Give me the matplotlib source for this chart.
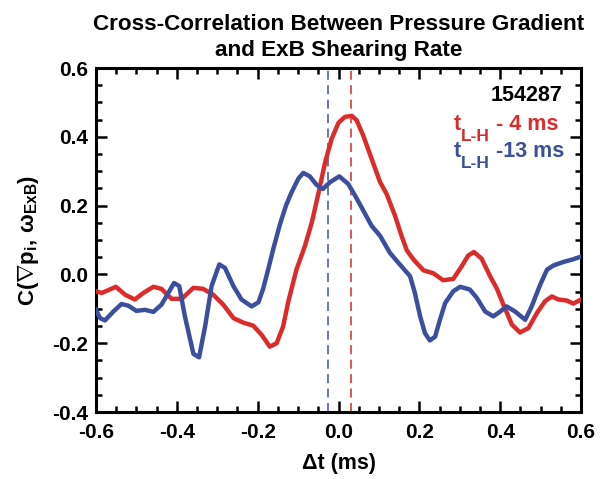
import matplotlib
matplotlib.use("Agg")
import matplotlib.pyplot as plt
from matplotlib import font_manager
from matplotlib.ticker import MultipleLocator, FormatStrFormatter
from matplotlib.transforms import offset_copy

# ---- data ----
red_x = [-0.600, -0.586, -0.570, -0.551, -0.528, -0.504, -0.483, -0.458, -0.438, -0.413,
         -0.388, -0.359, -0.335, -0.310, -0.285, -0.260, -0.236, -0.211, -0.190, -0.170,
         -0.153, -0.137, -0.124, -0.104, -0.083, -0.066, -0.050, -0.033, -0.017, 0.000,
         0.016, 0.033, 0.045, 0.061, 0.082, 0.103, 0.119, 0.140, 0.156, 0.169,
         0.185, 0.210, 0.235, 0.259, 0.284, 0.305, 0.321, 0.335, 0.354, 0.375,
         0.392, 0.408, 0.429, 0.449, 0.470, 0.491, 0.511, 0.528, 0.544, 0.565,
         0.581, 0.600]
red_y = [-0.049, -0.054, -0.046, -0.036, -0.059, -0.073, -0.054, -0.036, -0.042, -0.071,
         -0.071, -0.039, -0.042, -0.059, -0.088, -0.127, -0.140, -0.149, -0.176, -0.210,
         -0.200, -0.151, -0.078, 0.014, 0.083, 0.151, 0.234, 0.326, 0.394, 0.441,
         0.458, 0.461, 0.448, 0.404, 0.336, 0.268, 0.234, 0.170, 0.112, 0.070,
         0.044, 0.012, 0.003, -0.017, -0.013, 0.024, 0.055, 0.065, 0.046, -0.005,
         -0.042, -0.088, -0.146, -0.169, -0.156, -0.112, -0.078, -0.064, -0.073, -0.076,
         -0.085, -0.073]

blue_x = [-0.600, -0.590, -0.578, -0.557, -0.537, -0.520, -0.500, -0.479, -0.458, -0.438,
          -0.421, -0.407, -0.394, -0.380, -0.359, -0.345, -0.330, -0.314, -0.295, -0.281,
          -0.260, -0.240, -0.215, -0.198, -0.186, -0.175, -0.160, -0.145, -0.130, -0.116,
          -0.099, -0.087, -0.071, -0.054, -0.039, -0.021, 0.002, 0.024, 0.041, 0.057,
          0.082, 0.103, 0.127, 0.148, 0.177, 0.189, 0.202, 0.214, 0.226, 0.239,
          0.251, 0.264, 0.284, 0.301, 0.325, 0.342, 0.363, 0.383, 0.400, 0.416,
          0.437, 0.462, 0.478, 0.499, 0.516, 0.532, 0.556, 0.581, 0.598]
blue_y = [-0.103, -0.127, -0.134, -0.108, -0.086, -0.091, -0.106, -0.103, -0.109, -0.088,
          -0.054, -0.025, -0.034, -0.122, -0.231, -0.241, -0.151, -0.034, 0.029, 0.019,
          -0.034, -0.073, -0.093, -0.081, -0.040, 0.010, 0.080, 0.145, 0.200, 0.239,
          0.279, 0.295, 0.285, 0.260, 0.248, 0.268, 0.285, 0.263, 0.229, 0.195,
          0.141, 0.112, 0.063, 0.034, -0.005, -0.054, -0.122, -0.171, -0.192, -0.181,
          -0.132, -0.083, -0.049, -0.036, -0.044, -0.068, -0.108, -0.122, -0.108, -0.093,
          -0.108, -0.132, -0.093, -0.030, 0.014, 0.026, 0.036, 0.044, 0.051]

red_lag = 0.03
blue_lag = -0.025

title_lines = ["Cross-Correlation Between Pressure Gradient", "and ExB Shearing Rate"]
shot_label = "154287"
red_label = ["t", "L-H", " - 4 ms"]
blue_label = ["t", "L-H", " -13 ms"]
xlabel = "\u0394t (ms)"
ylabel = r"C($\nabla$p$_{\mathrm{i}}$, $\omega_{\mathrm{ExB}}$)"

# ---- fonts ----
names = {f.name for f in font_manager.fontManager.ttflist}
base = "Liberation Sans Narrow" if "Liberation Sans Narrow" in names else "Liberation Sans"
plt.rcParams["font.family"] = [base, "DejaVu Sans"]
plt.rcParams["font.weight"] = "bold"
plt.rcParams["mathtext.fontset"] = "custom"
plt.rcParams["mathtext.rm"] = base + ":bold"
plt.rcParams["mathtext.it"] = base + ":bold"
plt.rcParams["mathtext.bf"] = base + ":bold"
plt.rcParams["mathtext.sf"] = base + ":bold"
plt.rcParams["mathtext.default"] = "rm"

RED = "#dc2b2b"
BLUE = "#3c4e9e"
W, H = 607, 479

fig = plt.figure(figsize=(W / 100, H / 100), dpi=100)
ax = fig.add_axes([96 / W, 67 / H, 485 / W, 344 / H])

ax.plot(red_x, red_y, color=RED, lw=3.2, solid_joinstyle="round", zorder=3)
ax.plot(blue_x, blue_y, color=BLUE, lw=3.2, solid_joinstyle="round", zorder=3)
ax.axvline(red_lag, color="#e04848", lw=1.3, ls=(0, (5, 3)), zorder=2)
ax.axvline(blue_lag, color="#5b6cb4", lw=1.3, ls=(0, (5, 3)), zorder=2)

ax.set_xlim(-0.6, 0.6)
ax.set_ylim(-0.4, 0.6)
ax.xaxis.set_major_locator(MultipleLocator(0.2))
ax.xaxis.set_minor_locator(MultipleLocator(0.05))
ax.yaxis.set_major_locator(MultipleLocator(0.2))
ax.yaxis.set_minor_locator(MultipleLocator(0.05))
ax.xaxis.set_major_formatter(FormatStrFormatter("%.1f"))
ax.yaxis.set_major_formatter(FormatStrFormatter("%.1f"))

fs = 15
ax.tick_params(which="both", direction="in", top=True, right=True, width=1.8)
ax.tick_params(which="major", length=8, labelsize=fs)
ax.tick_params(axis="x", which="major", pad=8)
ax.tick_params(axis="y", which="major", pad=6)
ax.tick_params(which="minor", length=4.5)
for sp in ax.spines.values():
    sp.set_linewidth(2.2)

ax.set_xlabel(xlabel, fontsize=15.5, fontweight="bold", labelpad=8)
ax.set_ylabel(ylabel, fontsize=16, fontweight="bold", labelpad=8)

# title: two centred lines over the axes
cx = (96 + 581) / 2 / W
fig.text(cx, 1 - 30.5 / H, title_lines[0], ha="center", va="baseline",
         fontsize=16.2, fontweight="bold")
fig.text(cx, 1 - 56 / H, title_lines[1], ha="center", va="baseline",
         fontsize=16.2, fontweight="bold")

ax.text(0.961, 0.904, shot_label, transform=ax.transAxes, ha="right", va="baseline",
        fontsize=15.5, fontweight="bold", color="black")

renderer = fig.canvas.get_renderer()


def sub_label(xa, ya, parts, color, size=15.5, sub_size=12.5, drop=7.5):
    dx = 0.0
    for i, part in enumerate(parts):
        is_sub = (i == 1)
        tr = offset_copy(ax.transAxes, fig=fig, x=dx, y=-drop if is_sub else 0.0,
                         units="points")
        t = ax.text(xa, ya, part, transform=tr, ha="left", va="baseline",
                    fontsize=sub_size if is_sub else size, fontweight="bold",
                    color=color)
        dx += t.get_window_extent(renderer).width * 72.0 / fig.dpi


sub_label(0.738, 0.819, red_label, RED)
sub_label(0.738, 0.741, blue_label, BLUE)

fig.savefig("out.png", dpi=100)
